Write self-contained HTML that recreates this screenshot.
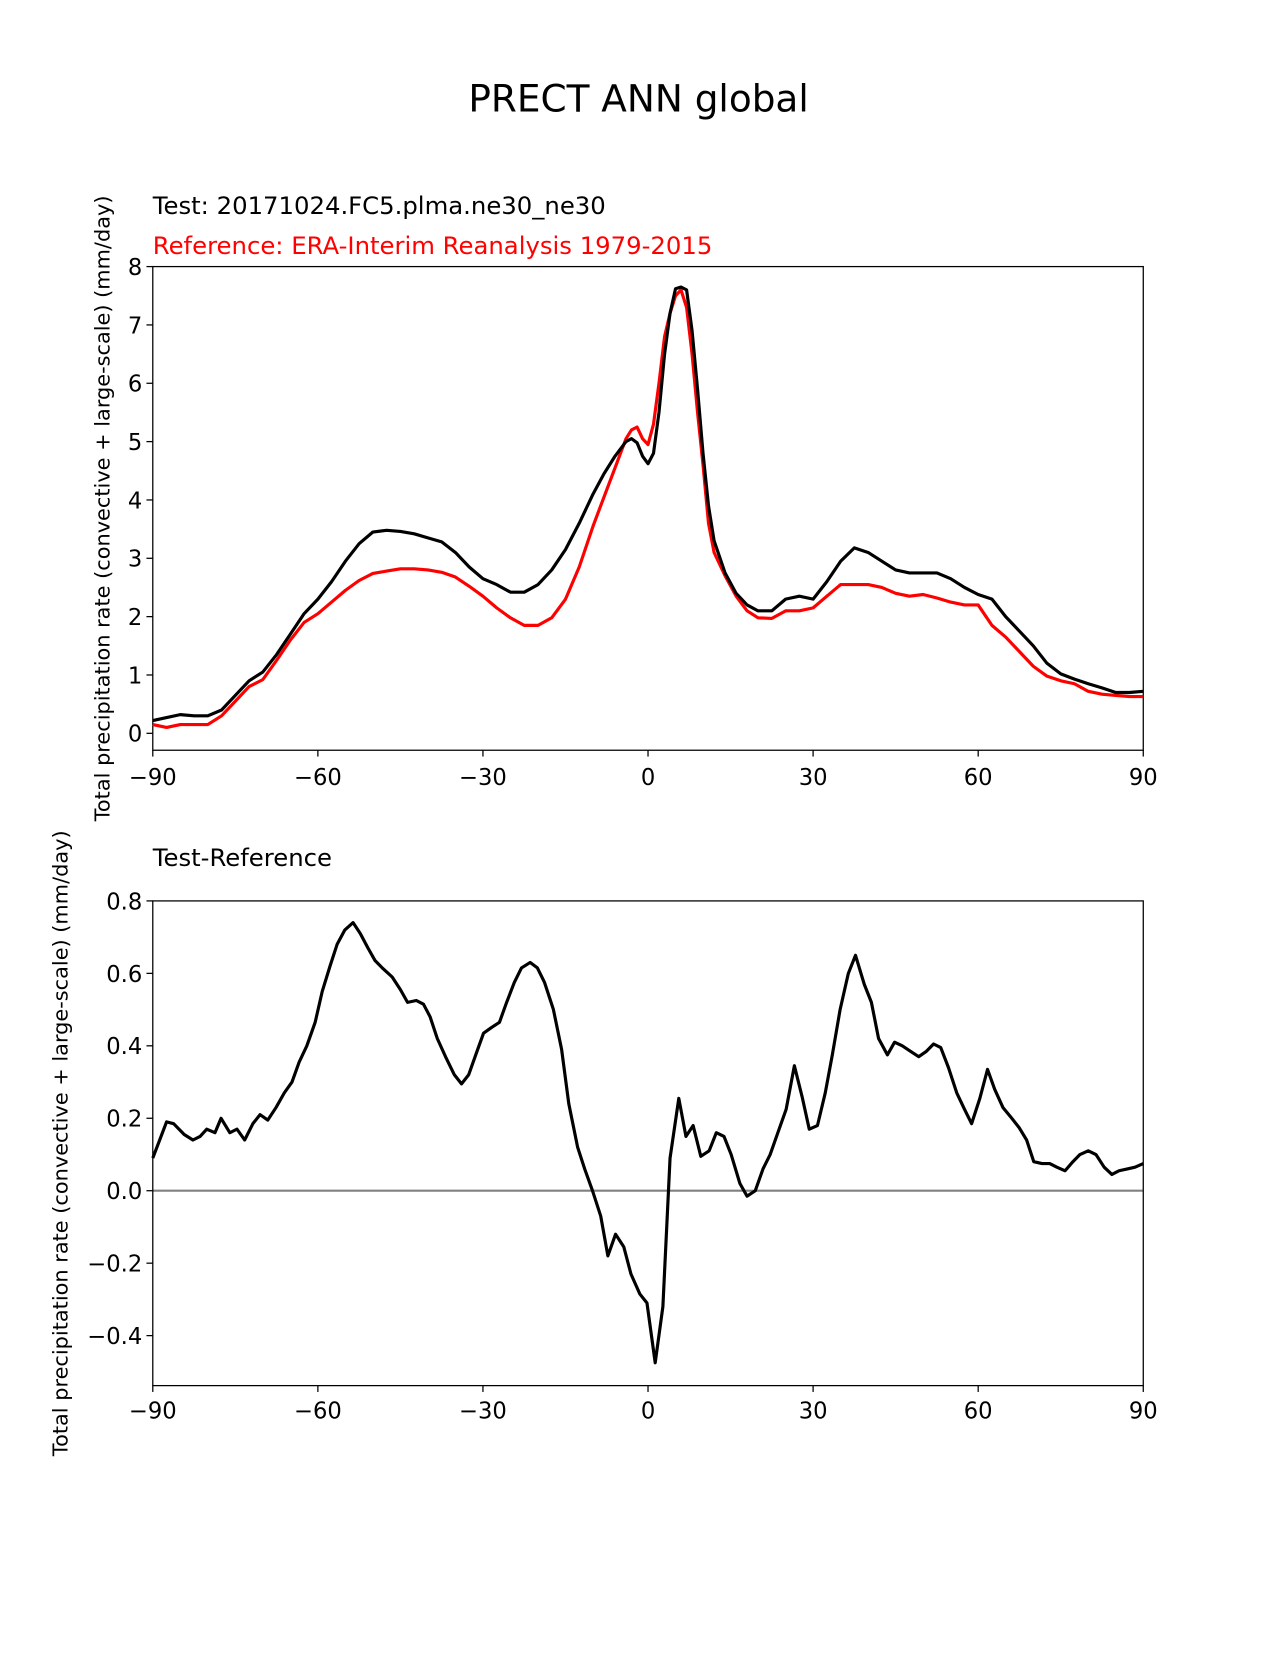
<!DOCTYPE html>
<html><head><meta charset="utf-8"><style>
body{margin:0;background:#fff}
svg text{font-family:"DejaVu Sans","Liberation Sans",sans-serif}
</style></head><body>
<svg id="fig" width="1275" height="1650" xmlns="http://www.w3.org/2000/svg">
<rect width="1275" height="1650" fill="#fff"/>
<g transform="scale(1.0537)">
<text x="606" y="106" font-size="35.5" text-anchor="middle">PRECT ANN global</text>
<text x="145" y="203" font-size="23.1">Test: 20171024.FC5.plma.ne30_ne30</text>
<text x="145" y="241" font-size="23.1" fill="#f00">Reference: ERA-Interim Reanalysis 1979-2015</text>
<text x="145" y="822" font-size="23.1">Test-Reference</text>
<g id="topc"></g>
<g id="botc"></g>
</g>
</svg>
<script>
const latTop=[-90,-87.5,-85,-82.5,-80,-77.5,-75,-72.5,-70,-67.5,-65,-62.5,-60,-57.5,-55,-52.5,-50,-47.5,-45,-42.5,-40,-37.5,-35,-32.5,-30,-27.5,-25,-22.5,-20,-17.5,-15,-12.5,-10,-8,-6,-4,-3,-2,-1,0,1,2,3,4,5,6,7,8,9,10,11,12,14,16,18,20,22.5,25,27.5,30,32.5,35,37.5,40,42.5,45,47.5,50,52.5,55,57.5,60,62.5,65,67.5,70,72.5,75,77.5,80,82.5,85,87.5,90];
const testVals=[0.22,0.27,0.32,0.3,0.3,0.4,0.65,0.9,1.05,1.35,1.7,2.05,2.3,2.6,2.95,3.25,3.45,3.48,3.46,3.42,3.35,3.28,3.1,2.85,2.65,2.55,2.42,2.42,2.55,2.8,3.15,3.6,4.1,4.45,4.75,5.0,5.05,4.98,4.75,4.62,4.8,5.5,6.5,7.2,7.62,7.65,7.6,6.9,5.9,4.8,3.9,3.3,2.75,2.4,2.2,2.1,2.1,2.3,2.35,2.3,2.6,2.95,3.18,3.1,2.95,2.8,2.75,2.75,2.75,2.65,2.5,2.38,2.3,2.0,1.75,1.5,1.2,1.02,0.93,0.85,0.78,0.7,0.7,0.72];
const refVals=[0.15,0.1,0.15,0.15,0.15,0.3,0.55,0.8,0.92,1.25,1.6,1.9,2.05,2.25,2.45,2.62,2.74,2.78,2.82,2.82,2.8,2.76,2.68,2.52,2.35,2.15,1.98,1.85,1.85,1.98,2.3,2.85,3.55,4.05,4.55,5.05,5.2,5.25,5.05,4.95,5.3,6.0,6.8,7.2,7.5,7.6,7.3,6.5,5.5,4.6,3.6,3.1,2.7,2.35,2.1,1.98,1.97,2.1,2.1,2.15,2.35,2.55,2.55,2.55,2.5,2.4,2.35,2.38,2.32,2.25,2.2,2.2,1.85,1.65,1.4,1.15,0.98,0.9,0.85,0.72,0.67,0.65,0.63,0.63];
const latDiff=[-90,-87.5,-86.2,-84.3,-82.7,-81.4,-80.2,-78.7,-77.6,-76.0,-74.7,-73.3,-71.8,-70.5,-69.1,-67.6,-66.1,-64.7,-63.4,-62.0,-60.5,-59.2,-57.8,-56.5,-55.1,-53.6,-52.3,-50.9,-49.6,-48.3,-46.5,-45.0,-43.7,-42.1,-40.8,-39.6,-38.3,-36.8,-35.2,-33.9,-32.6,-31.2,-29.9,-28.5,-27.0,-25.7,-24.3,-23.0,-21.4,-20.1,-18.8,-17.2,-15.7,-14.4,-12.8,-11.5,-10.1,-8.6,-7.3,-5.9,-4.4,-3.1,-1.5,-0.2,1.3,2.7,4.0,5.6,6.9,8.2,9.6,11.1,12.4,13.8,15.1,16.7,18.0,19.5,20.9,22.2,23.6,25.1,26.6,28.0,29.3,30.8,32.2,33.5,34.9,36.4,37.7,39.3,40.6,41.9,43.5,44.8,46.2,47.7,49.2,50.6,51.9,53.2,54.6,56.1,57.5,58.8,60.3,61.7,63.0,64.5,66.1,67.4,68.8,70.1,71.6,73.0,74.3,75.8,77.2,78.5,80.0,81.4,82.9,84.3,85.6,87.1,88.5,90];
const diffVals=[0.09,0.19,0.185,0.155,0.14,0.15,0.17,0.16,0.2,0.16,0.17,0.14,0.185,0.21,0.195,0.23,0.27,0.3,0.355,0.4,0.465,0.55,0.62,0.68,0.72,0.74,0.71,0.67,0.635,0.615,0.59,0.555,0.52,0.525,0.515,0.48,0.42,0.37,0.32,0.295,0.32,0.38,0.435,0.45,0.465,0.52,0.575,0.615,0.63,0.615,0.575,0.5,0.39,0.24,0.12,0.06,0.0,-0.07,-0.18,-0.12,-0.155,-0.23,-0.285,-0.31,-0.475,-0.32,0.09,0.255,0.15,0.18,0.095,0.11,0.16,0.15,0.1,0.02,-0.015,0.0,0.06,0.1,0.16,0.225,0.345,0.26,0.17,0.18,0.27,0.375,0.5,0.6,0.65,0.57,0.52,0.42,0.375,0.41,0.4,0.385,0.37,0.385,0.405,0.395,0.34,0.27,0.225,0.185,0.255,0.335,0.28,0.23,0.2,0.175,0.14,0.08,0.075,0.075,0.065,0.055,0.08,0.1,0.11,0.1,0.065,0.045,0.055,0.06,0.065,0.075];
const xTicks=[-90,-60,-30,0,30,60,90];
const xTickLabels=["\u221290","\u221260","\u221230","0","30","60","90"];
const yTicksTop=[0,1,2,3,4,5,6,7,8];
const yTicksBot=[-0.4,-0.2,0.0,0.2,0.4,0.6,0.8];
const NS='http://www.w3.org/2000/svg';
function mk(parent,tag,attrs){const e=document.createElementNS(NS,tag);for(const k in attrs)e.setAttribute(k,attrs[k]);parent.appendChild(e);return e;}
function chart(g,x0,x1,yTop,yBot,vTop,vBot,yTicks,yFmt,ylabel,ylabX,xlabY){
  const xs=v=>x0+(v+90)/180*(x1-x0);
  const ys=v=>yTop+(vTop-v)/(vTop-vBot)*(yBot-yTop);
  return {xs,ys,axes(){
    const box=mk(g,'rect',{x:x0,y:yTop,width:x1-x0,height:yBot-yTop,fill:'none',stroke:'#000','stroke-width':1.2});
    
    
    xTicks.forEach((t,i)=>{
      const l=mk(g,'line',{x1:xs(t),x2:xs(t),y1:yBot,y2:yBot+6,stroke:'#000','stroke-width':1.2});
      
      
      const tx=mk(g,'text',{x:xs(t),y:xlabY,'font-size':21.5,'text-anchor':'middle'});tx.textContent=xTickLabels[i];
      
      
    });
    yTicks.forEach(t=>{
      const l=mk(g,'line',{x1:x0-6,x2:x0,y1:ys(t),y2:ys(t),stroke:'#000','stroke-width':1.2});
      
      
      const tx=mk(g,'text',{x:x0-10,y:ys(t)+8,'font-size':21.5,'text-anchor':'end'});tx.textContent=yFmt(t);
      
      
    });
    const cy=(yTop+yBot)/2;
    const yl=mk(g,'text',{x:ylabX,y:cy,'font-size':19.8,'text-anchor':'middle',transform:`rotate(-90 ${ylabX} ${cy})`});yl.textContent=ylabel;
    
    
  }};
}
function line(g,c,lats,vals,color,name){
  const d=lats.map((la,i)=>(i?'L':'M')+c.xs(la).toFixed(1)+' '+c.ys(vals[i]).toFixed(1)).join(' ');
  const p=mk(g,'path',{d,fill:'none',stroke:color,'stroke-width':3,'stroke-linejoin':'round'});
  
  
}
const YL='Total precipitation rate (convective + large-scale) (mm/day)';
const topG=document.getElementById('topc');
const c1=chart(topG,145,1085,253,712,8,-0.29,yTicksTop,t=>String(t),YL,104,745);
c1.axes();
line(topG,c1,latTop,refVals,'#f00','reference-line');
line(topG,c1,latTop,testVals,'#000','test-line');
const botG=document.getElementById('botc');
const c2=chart(botG,145,1085,855,1315,0.8,-0.538,yTicksBot,t=>(t<0?'\u2212':'')+Math.abs(t).toFixed(1),YL,64,1346);
const z=mk(botG,'line',{x1:145,x2:1085,y1:c2.ys(0),y2:c2.ys(0),stroke:'#808080','stroke-width':2});


c2.axes();
line(botG,c2,latDiff,diffVals,'#000','difference-line');
</script>
</body></html>
